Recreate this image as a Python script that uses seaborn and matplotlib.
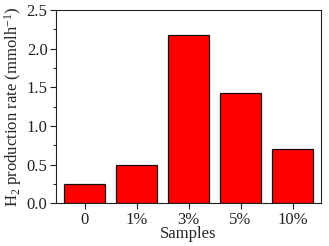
import matplotlib
matplotlib.use("Agg")
import matplotlib.pyplot as plt
import seaborn as sns
import pandas as pd
from matplotlib.ticker import MultipleLocator
from matplotlib import font_manager

samples = ["0", "1%", "3%", "5%", "10%"]
rates = [0.25, 0.50, 2.18, 1.42, 0.70]

sns.set_style("ticks")
names = sorted({f.name for f in font_manager.fontManager.ttflist})
serif = [n for n in ["Liberation Serif", "Times New Roman", "Nimbus Roman", "DejaVu Serif"] if n in names]
plt.rcParams['font.family'] = serif
plt.rcParams['mathtext.fontset'] = 'custom'
plt.rcParams['mathtext.rm'] = serif[0]
plt.rcParams['mathtext.it'] = serif[0] + ':italic'

df = pd.DataFrame({"Samples": samples, "rate": rates})

fig = plt.figure(figsize=(3.29, 2.46), dpi=100)
ax = fig.add_axes([0.170, 0.173, 0.806, 0.787])
sns.barplot(data=df, x="Samples", y="rate", color="#ff0000", saturation=1,
            edgecolor="#111111", linewidth=0.9, width=0.8, ax=ax)
ax.set_ylim(0, 2.5)
ax.set_xlim(-0.55, 4.55)
ax.yaxis.set_major_locator(MultipleLocator(0.5))
ax.yaxis.set_minor_locator(MultipleLocator(0.25))
for s in ax.spines.values():
    s.set_visible(True)
    s.set_linewidth(0.8)
    s.set_color("#222222")
ax.tick_params(axis='both', which='major', direction='out', length=4, width=0.8,
               labelsize=12, colors="#222222", pad=2)
ax.tick_params(axis='y', which='minor', direction='out', length=2, width=0.8)
ax.set_xlabel("Samples", fontsize=12, labelpad=-1)
ax.set_ylabel(r"H$_2$ production rate (mmolh$^{-1}$)", fontsize=12, labelpad=2)
fig.savefig("out.png", dpi=100)
